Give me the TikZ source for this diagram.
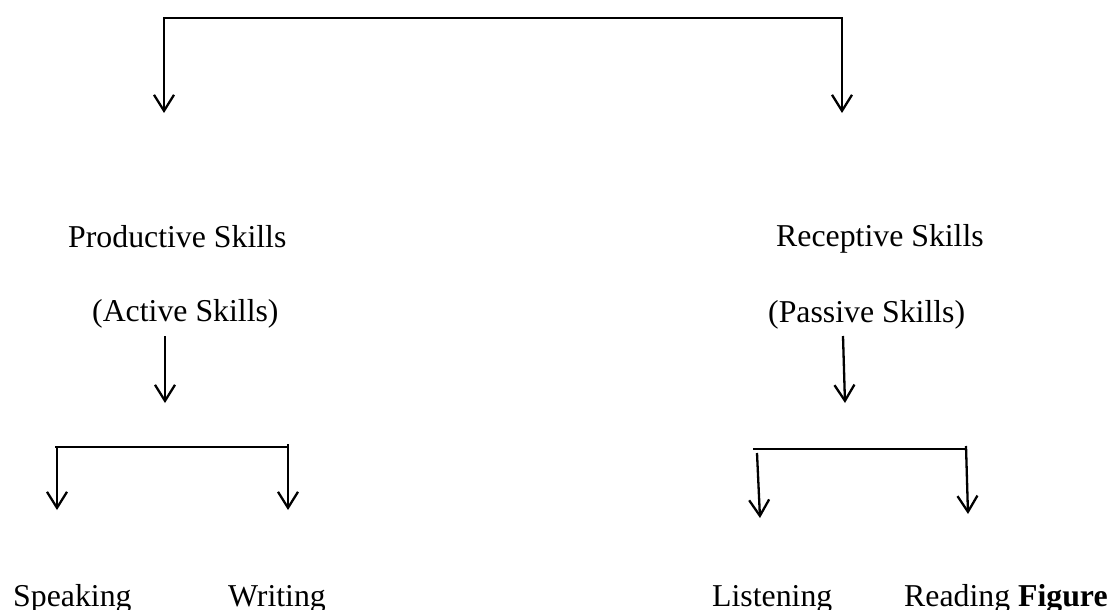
\documentclass[tikz,border=0pt]{standalone}
\usepackage{fontspec}
\setmainfont{Liberation Serif}
\usetikzlibrary{arrows.meta}
\begin{document}
\begin{tikzpicture}[x=1pt,y=-1pt,
  label text/.style={anchor=base west,inner sep=0pt,font=\fontsize{31.8}{38}\selectfont},
  conn/.style={line width=2.3pt},
  arr/.style={conn,-{Straight Barb[length=16pt,width=20pt,line width=2.3pt]}}]
\useasboundingbox (0,0) rectangle (1112,610);

% labels
\node[label text] (prod)  at (68,247)  {Productive Skills};
\node[label text] (rec)   at (776,246) {Receptive Skills};
\node[label text] (act)   at (92,321)  {(Active Skills)};
\node[label text] (pas)   at (768,322) {(Passive Skills)};
\node[label text] (speak) at (13,606)  {Speaking};
\node[label text] (writ)  at (228,606) {Writing};
\node[label text] (list)  at (712,606) {Listening};
\node[label text] (read)  at (904,606) {Reading \textbf{Figure}};

% top bracket
\coordinate (topmid) at (504,18);
\coordinate (tipP) at (164,113);
\coordinate (tipR) at (842,113);
\draw[arr] (topmid) -| (tipP);
\draw[arr] (topmid) -| (tipR);

% arrows below the bracketed names
\coordinate (actS) at (165,336);
\coordinate (actE) at (165,403);
\coordinate (pasS) at (843,336);
\coordinate (pasE) at (845,403);
\draw[arr] (actS) -- (actE);
\draw[arr] (pasS) -- (pasE);

% left sub-bracket
\coordinate (lbA) at (55,447);
\coordinate (lbB) at (288,447);
\coordinate (lbLs) at (57,446);
\coordinate (lbLe) at (57,510);
\coordinate (lbRs) at (288,444);
\coordinate (lbRe) at (288,510);
\draw[conn] (lbA) -- (lbB);
\draw[arr] (lbLs) -- (lbLe);
\draw[arr] (lbRs) -- (lbRe);

% right sub-bracket
\coordinate (rbA) at (753,449);
\coordinate (rbB) at (966,449);
\coordinate (rbLs) at (757,453);
\coordinate (rbLe) at (760,518);
\coordinate (rbRs) at (966,446);
\coordinate (rbRe) at (968,514);
\draw[conn] (rbA) -- (rbB);
\draw[arr] (rbLs) -- (rbLe);
\draw[arr] (rbRs) -- (rbRe);
\end{tikzpicture}
\end{document}
